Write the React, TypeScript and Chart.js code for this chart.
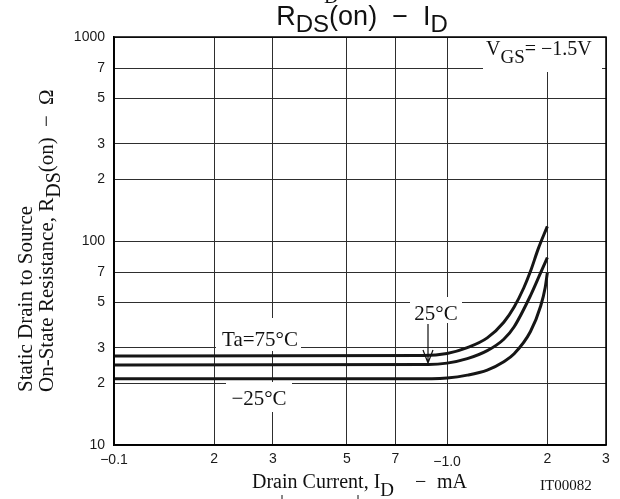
import React, { useEffect, useRef } from "react";
import { Chart, registerables } from "chart.js";

Chart.register(...registerables);

// ---- data ----
const xTickValues = [0.1, 0.2, 0.3, 0.5, 0.7, 1, 2, 3];
const xTickLabels = ["−0.1", "2", "3", "5", "7", "−1.0", "2", "3"];
const yTickValues = [10, 20, 30, 50, 70, 100, 200, 300, 500, 700, 1000];
const yTickLabels = ["10", "2", "3", "5", "7", "100", "2", "3", "5", "7", "1000"];

const id75 = [0.1, 0.85, 1.0, 1.15, 1.32, 1.48, 1.59, 1.7, 1.78, 1.88, 2.0];
const r75 = [27.3, 27.45, 28.1, 30, 33.5, 40, 47.5, 59, 71, 92, 118];

const id25 = [0.1, 0.88, 1.0, 1.15, 1.32, 1.48, 1.59, 1.78, 1.91, 2.0];
const r25 = [24.7, 24.8, 25.2, 26.5, 29, 33, 38, 54, 70, 83];

const idM25 = [0.1, 0.9, 1.0, 1.15, 1.32, 1.48, 1.59, 1.78, 1.91, 1.97, 2.0];
const rM25 = [21.1, 21.15, 21.3, 22, 23.3, 25.6, 28, 36, 48, 59, 70];

const seriesNames = ["Ta=75°C", "25°C", "−25°C"];

const SERIF = '"Liberation Serif", "Times New Roman", serif';
const SANS = '"Liberation Sans", Arial, Helvetica, sans-serif';

type Part = { t: string; sub?: boolean };

function richWidth(ctx: CanvasRenderingContext2D, parts: Part[], font: string, size: number, subSize: number) {
  let w = 0;
  for (const p of parts) {
    ctx.font = `${p.sub ? subSize : size}px ${font}`;
    w += ctx.measureText(p.t).width;
  }
  return w;
}

function drawRich(
  ctx: CanvasRenderingContext2D,
  parts: Part[],
  x: number,
  y: number,
  font: string,
  size: number,
  subSize: number,
  subDrop: number,
  align: "left" | "center" = "left"
) {
  let cx = x;
  if (align === "center") cx = x - richWidth(ctx, parts, font, size, subSize) / 2;
  ctx.textAlign = "left";
  ctx.textBaseline = "alphabetic";
  for (const p of parts) {
    ctx.font = `${p.sub ? subSize : size}px ${font}`;
    ctx.fillText(p.t, cx, y + (p.sub ? subDrop : 0));
    cx += ctx.measureText(p.t).width;
  }
}

const decorPlugin = {
  id: "decor",
  beforeDatasetsDraw(chart: any) {
    const ctx = chart.ctx as CanvasRenderingContext2D;
    ctx.save();
    ctx.fillStyle = "#ffffff";
    // white boxes behind the labels (interrupting grid lines)
    ctx.fillRect(216, 318, 85, 33);
    ctx.fillRect(226, 382, 66, 30);
    ctx.fillRect(410, 297, 52, 26);
    ctx.fillRect(483, 38, 119, 34);
    ctx.restore();
  },
  afterDatasetsDraw(chart: any) {
    const ctx = chart.ctx as CanvasRenderingContext2D;
    const { left, right, top, bottom } = chart.chartArea;
    ctx.save();
    // frame
    ctx.strokeStyle = "#000";
    ctx.lineWidth = 1.5;
    ctx.strokeRect(left, top, right - left, bottom - top);

    ctx.fillStyle = "#111";
    // curve labels
    ctx.font = `21px ${SERIF}`;
    ctx.textAlign = "center";
    ctx.textBaseline = "alphabetic";
    ctx.fillText(seriesNames[0], 260, 346);
    ctx.fillText(seriesNames[2], 259, 405);
    ctx.fillText(seriesNames[1], 436, 320);

    // arrow for 25°C
    ctx.strokeStyle = "#111";
    ctx.lineWidth = 1.2;
    ctx.beginPath();
    ctx.moveTo(428, 324);
    ctx.lineTo(428, 363);
    ctx.moveTo(423, 350);
    ctx.lineTo(428, 363);
    ctx.lineTo(433, 350);
    ctx.stroke();

    // VGS label
    drawRich(ctx, [{ t: "V" }, { t: "GS", sub: true }, { t: "= −1.5V" }], 486, 55, SERIF, 20, 19, 8);

    // title
    ctx.fillStyle = "#111";
    drawRich(
      ctx,
      [{ t: "R" }, { t: "DS", sub: true }, { t: "(on)  −  I" }, { t: "D", sub: true }],
      362,
      25,
      SANS,
      27,
      24,
      7,
      "center"
    );
    // fragment of a line above the title (cut by the image edge)
    ctx.font = `20px ${SERIF}`;
    ctx.textAlign = "left";
    ctx.fillText("D", 324, 3);

    // x axis title
    drawRich(ctx, [{ t: "Drain Current, I" }, { t: "D", sub: true }], 252, 488, SERIF, 20, 19, 8);
    ctx.font = `20px ${SERIF}`;
    ctx.textAlign = "left";
    ctx.fillText("−", 415, 488);
    ctx.fillText("mA", 437, 488);
    ctx.font = `15px ${SERIF}`;
    ctx.fillText("IT00082", 540, 490);

    // y axis title (rotated)
    ctx.translate(0, 392);
    ctx.rotate(-Math.PI / 2);
    ctx.font = `21px ${SERIF}`;
    ctx.textAlign = "left";
    ctx.fillText("Static Drain to Source", 0, 32);
    drawRich(ctx, [{ t: "On-State Resistance, R" }, { t: "DS", sub: true }, { t: "(on)" }], 0, 53, SERIF, 21, 20, 7);
    ctx.font = `21px ${SERIF}`;
    ctx.fillText("−", 265, 53);
    ctx.fillText("Ω", 287, 53);
    ctx.restore();

    // small fragments at the bottom edge
    ctx.save();
    ctx.strokeStyle = "#111";
    ctx.lineWidth = 1;
    ctx.beginPath();
    ctx.moveTo(282, 495);
    ctx.lineTo(282, 499);
    ctx.moveTo(358, 495);
    ctx.lineTo(358, 499);
    ctx.stroke();
    ctx.restore();
  },
};

function toPoints(xs: number[], ys: number[]) {
  return xs.map((x, i) => ({ x, y: ys[i] }));
}

export default function App() {
  const ref = useRef<HTMLCanvasElement | null>(null);

  useEffect(() => {
    if (!ref.current) return;
    const lineStyle = {
      borderColor: "#161616",
      borderWidth: 3,
      pointRadius: 0,
      fill: false,
      showLine: true,
      cubicInterpolationMode: "monotone" as const,
      borderCapStyle: "butt" as const,
    };
    const chart = new Chart(ref.current, {
      type: "scatter",
      data: {
        datasets: [
          { label: seriesNames[0], data: toPoints(id75, r75), ...lineStyle },
          { label: seriesNames[1], data: toPoints(id25, r25), ...lineStyle },
          { label: seriesNames[2], data: toPoints(idM25, rM25), ...lineStyle },
        ],
      },
      options: {
        animation: false,
        responsive: false,
        devicePixelRatio: 1,
        layout: { padding: { top: 37, right: 14, left: 0, bottom: 0 } },
        plugins: {
          legend: { display: false },
          tooltip: { enabled: false },
          title: { display: false },
        },
        scales: {
          x: {
            type: "logarithmic",
            min: 0.1,
            max: 3,
            afterBuildTicks: (scale: any) => {
              scale.ticks = xTickValues.map((v) => ({ value: v }));
            },
            afterFit: (scale: any) => {
              scale.height = 54;
            },
            ticks: {
              autoSkip: false,
              maxRotation: 0,
              padding: 6,
              color: "#1a1a1a",
              font: (c: any) => ({
                family: SANS,
                size: 14,
                lineHeight: c.index === 5 ? 1.65 : c.index === 0 ? 1.35 : 1.2,
              }),
              callback: (value: any) => {
                const i = xTickValues.indexOf(Number(value));
                return i >= 0 ? xTickLabels[i] : "";
              },
            },
            grid: { color: "#2e2e2e", lineWidth: 1, drawTicks: false },
            border: { display: true, color: "#000", width: 1.5 },
          },
          y: {
            type: "logarithmic",
            min: 10,
            max: 1000,
            afterBuildTicks: (scale: any) => {
              scale.ticks = yTickValues.map((v) => ({ value: v }));
            },
            afterFit: (scale: any) => {
              scale.width = 114;
            },
            ticks: {
              autoSkip: false,
              padding: 9,
              color: "#1a1a1a",
              font: { family: SANS, size: 14 },
              callback: (value: any) => {
                const i = yTickValues.indexOf(Number(value));
                return i >= 0 ? yTickLabels[i] : "";
              },
            },
            grid: { color: "#2e2e2e", lineWidth: 1, drawTicks: false },
            border: { display: true, color: "#000", width: 1.5 },
          },
        },
      },
      plugins: [decorPlugin],
    } as any);
    return () => chart.destroy();
  }, []);

  return (
    <div style={{ position: "fixed", left: 0, top: 0, width: 620, height: 499, background: "#fff" }}>
      <canvas ref={ref} width={620} height={499} />
    </div>
  );
}
